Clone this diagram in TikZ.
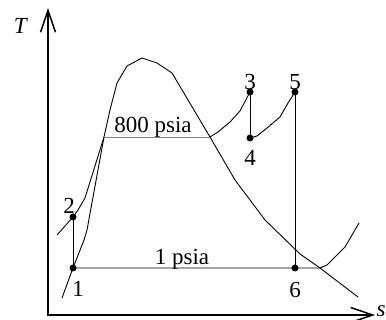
\documentclass[tikz,border=0pt]{standalone}
\usepackage{fontspec}
\setmainfont{Liberation Serif}
\usetikzlibrary{arrows.meta}

\begin{document}
\begin{tikzpicture}[x=1pt, y=-1pt,
    every node/.style={font=\fontsize{23}{25}\selectfont, inner sep=0pt},
    axis/.style={line width=1.5pt, line join=miter,
      arrows={Straight Barb[length=22pt,width=15pt]-Straight Barb[length=22pt,width=15pt]}},
    curve/.style={line width=0.9pt, line join=round},
    state/.style={circle, fill, minimum size=7pt}]
    \useasboundingbox (0,0) rectangle (386,320);

    % Axes
    \coordinate (tend) at (48,8);
    \coordinate (orig) at (48,315);
    \coordinate (send) at (375,315);
    \draw[axis] (tend) -- (orig) -- (send);
    \node (tlab) at (21,26) {\textit{T}};
    \node (slab) at (381,311) {\textit{s}};

    % State points
    \coordinate (p1) at (73,268);
    \coordinate (p2) at (73,217);
    \coordinate (p3) at (250,92);
    \coordinate (p4) at (250,138);
    \coordinate (p5) at (295,92);
    \coordinate (p6) at (295,268);
    \coordinate (f800) at (104,137);
    \coordinate (g800) at (210,137);
    \coordinate (g1) at (320,268);

    % Saturation dome
    \draw[curve] (62,298) -- (p1) -- (84,240) -- (87,230) -- (f800) -- (110,110)
      -- (117,83) -- (127,66) -- (142,58) -- (157,63) -- (172,73) -- (g800)
      -- (235,180) -- (265,220) -- (300,254) -- (g1) -- (358,297);

    % 800 psia line
    \draw[curve] (57,235) -- (p2) -- (78,210) -- (85,198) -- (f800);
    \draw[curve, gray] (f800) -- (g800);
    \draw[curve] (g800) -- (218,132) -- (230,122) -- (240,111) -- (p3);
    \draw[curve] (p4) -- (257,136) -- (267,128) -- (280,117) -- (288,103) -- (p5);
    \node[anchor=base] (hip) at (153,133) {800 psia};

    % 1 psia line
    \draw[curve] (p1) -- (p6) -- (g1) -- (327,265) -- (345,247) -- (359,223);
    \node[anchor=base] (lop) at (182,265) {1 psia};

    % Processes
    \draw[curve] (p1) -- (p2);
    \draw[curve] (p3) -- (p4);
    \draw[curve] (p5) -- (p6);

    % Dots and labels
    \foreach \i in {1,...,6} {
      \node[state] (d\i) at (p\i) {};
    }
    \node (l1) at (78,289) {1};
    \node (l2) at (69,206) {2};
    \node (l3) at (250,82) {3};
    \node (l4) at (250,158) {4};
    \node (l5) at (295,82) {5};
    \node (l6) at (295,290) {6};
\end{tikzpicture}
\end{document}
